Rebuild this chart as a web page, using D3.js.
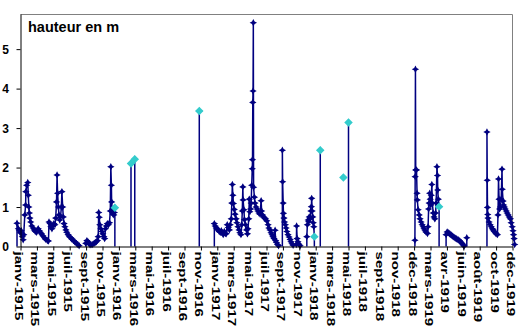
<!DOCTYPE html>
<html><head><meta charset="utf-8">
<script src="https://cdn.jsdelivr.net/npm/d3@7/dist/d3.min.js"></script>
<style>body{margin:0;background:#fff}svg{display:block}</style>
</head><body>
<svg id="chart" width="520" height="329"></svg>
<script>
// ---- data (x = row index of the daily record, y = water height in m) ----
const tickLabels = ["janv-1915","mars-1915","mai-1915","juil-1915","sept-1915","nov-1915",
  "janv-1916","mars-1916","mai-1916","juil-1916","sept-1916","nov-1916",
  "janv-1917","mars-1917","mai-1917","juil-1917","sept-1917","nov-1917",
  "janv-1918","mars-1918","mai-1918","juil-1918","sept-1918","nov-1918",
  "déc-1918","mars-1919","avr-1919","juin-1919","août-1919","oct-1919","déc-1919"];
const firstTickRow = 13, rowsPerTick = 61;
const yTicks = [0,1,2,3,4,5];
const yMax = 5.89;
const titleText = "hauteur en m";

const run1915a = [[0,0.59],[5,0.45],[9,0.40],[12,0.35],[16,0.40],[20,0.25],[23,0.17],[25,0.30],[29,0.80],[32,1.05],[33,1.39],[36,1.55],[40,1.62],[42,1.30],[44,1.00],[46,0.85],[48,0.72],[51,0.62],[55,0.52],[60,0.47],[64,0.42],[68,0.38],[73,0.36],[76,0.42],[79,0.45],[83,0.40],[87,0.36],[91,0.32],[96,0.27],[102,0.22],[107,0.18],[113,0.15],[117,0.14],[119,0.62],[123,0.58],[126,0.50],[130,0.45],[133,0.52],[137,0.58],[141,0.55],[144,0.72],[147,1.13],[149,1.81],[151,1.35],[154,1.00],[156,0.80],[159,0.67],[162,0.75],[165,1.00],[167,1.39],[170,1.00],[172,0.75],[175,0.58],[178,0.50],[182,0.42],[185,0.36],[190,0.30],[195,0.25],[200,0.22],[204,0.19],[210,0.15],[215,0.12],[221,0.08],[226,0.05],[231,0.02]];
const run1915b = [[256,0.08],[260,0.15],[264,0.12],[267,0.08],[271,0.05],[275,0.04],[280,0.05],[286,0.07],[291,0.10],[295,0.12],[299,0.15],[302,0.25],[304,0.86],[306,0.74],[308,0.55],[312,0.45],[316,0.38],[319,0.32],[323,0.25],[326,0.20],[329,0.45],[332,0.52],[336,0.58],[340,0.55],[344,0.60],[347,0.90],[349,2.02],[351,1.55],[352,1.13],[354,0.90],[357,0.82],[360,0.80],[362,0.86],[364,0.98]];
const single1916a = [[424,2.10]];
const single1916b = [[438,2.21]];
const single1916c = [[678,3.43]];
const run1917a = [[734,0.58],[737,0.52],[741,0.47],[745,0.44],[749,0.42],[752,0.38],[756,0.36],[760,0.40],[764,0.35],[767,0.30],[771,0.38],[775,0.33],[778,0.32],[782,0.55],[786,0.48],[790,0.42],[793,0.55],[797,0.70],[799,1.10],[801,1.57],[803,1.30],[805,1.09],[808,0.94],[811,0.82],[815,0.70],[818,0.60],[822,0.50],[826,0.42],[829,0.35],[833,0.30],[836,0.55],[838,0.90],[840,1.51],[841,1.18],[844,0.93],[846,0.68],[850,0.55],[854,0.42],[857,0.32],[859,0.45],[862,0.70],[864,1.20],[866,0.88],[869,0.95],[871,1.10],[873,1.55],[875,1.97],[876,2.20],[877,3.65],[878,3.94],[879,5.67],[880,1.50],[883,1.25],[885,1.10],[889,1.00],[893,0.95],[896,0.90],[900,0.85],[904,0.82],[908,1.16],[910,0.90],[913,0.80],[917,0.75],[921,0.72],[924,0.70],[929,0.65],[934,0.55],[937,0.47],[941,0.42],[945,0.35],[949,0.30],[952,0.25],[956,0.20],[960,0.41],[962,0.15],[965,0.10],[969,0.05],[973,0.02]];
const run1917b = [[987,2.44],[988,1.64],[990,1.10],[991,0.84],[993,0.72],[995,0.62],[998,0.55],[1001,0.47],[1004,0.38],[1008,0.30],[1012,0.24],[1016,0.18],[1019,0.12],[1023,0.07],[1027,0.03],[1039,0.05],[1040,0.52],[1042,0.20],[1045,0.12],[1049,0.06],[1053,0.02]];
const run1918a = [[1078,0.25],[1080,0.55],[1083,0.67],[1085,0.63],[1087,0.75],[1090,0.70],[1093,0.90],[1095,1.01],[1096,1.22],[1098,0.90],[1100,0.75],[1102,0.60],[1104,0.50],[1106,0.25]];
const single1918a = [[1128,2.44]];
const single1918b = [[1233,3.14]];
const run1919a = [[1480,0.16],[1481,1.77],[1482,4.49],[1483,1.94],[1486,1.94],[1488,1.35],[1489,1.18],[1492,0.93],[1496,0.80],[1499,0.70],[1503,0.62],[1507,0.55],[1511,0.50],[1514,0.45],[1518,0.40],[1522,0.36],[1527,0.33],[1529,0.50],[1531,0.95],[1533,1.10],[1535,1.35],[1537,1.20],[1539,1.05],[1541,1.30],[1543,1.57],[1545,1.10],[1548,0.85],[1551,0.75],[1554,0.70],[1557,0.85],[1559,1.10],[1562,2.02],[1564,1.80],[1565,1.43],[1567,1.20],[1570,1.01]];
const run1919b = [[1596,0.30],[1600,0.37],[1604,0.35],[1608,0.33],[1611,0.31],[1615,0.29],[1619,0.27],[1622,0.25],[1626,0.23],[1630,0.21],[1634,0.20],[1637,0.18],[1641,0.17],[1645,0.15],[1648,0.13],[1652,0.10],[1656,0.07],[1660,0.04],[1663,0.01]];
const single1919 = [[1673,0.22]];
const run1919c = [[1748,2.90],[1749,1.68],[1750,0.99],[1751,0.81],[1752,0.72],[1756,0.62],[1760,0.55],[1764,0.50],[1768,0.45],[1771,0.42],[1775,0.38],[1779,0.35],[1782,0.32],[1787,0.30],[1789,0.80],[1791,1.71],[1793,1.20],[1795,0.95],[1798,1.00],[1801,1.20],[1804,1.96],[1805,1.45],[1808,1.15],[1810,1.05],[1813,1.00],[1816,0.95],[1820,0.90],[1823,0.85],[1827,0.80],[1831,0.75],[1835,0.70],[1838,0.60],[1842,0.50],[1845,0.40],[1847,0.30],[1849,0.20],[1851,0.05]];
const highlightPoints = [[364,0.98],[424,2.10],[438,2.21],[678,3.43],[1106,0.25],[1128,2.44],[1214,1.75],[1233,3.14],[1570,1.01]];

const runs = [run1915a, run1915b, single1916a, single1916b, single1916c, run1917a, run1917b,
  run1918a, single1918a, single1918b, run1919a, run1919b, single1919, run1919c];

// ---- drawing ----
const svg = d3.select("#chart");
const L = 20.5, R = 512.5, T = 14, B = 246.5;
const tickRows = d3.range(tickLabels.length).map(k => firstTickRow + k * rowsPerTick);
const x = d3.scaleLinear().domain([tickRows[0], tickRows[tickRows.length-1]]).range([L, R]);
const y = d3.scaleLinear().domain([0, yMax]).range([B, T]);
const navy = "#000080", cyan = "#33CCCC";

// plot border (top/right)
svg.append("path").attr("d", `M${L},${T+0.5}H${R}V${B}`)
  .attr("fill","none").attr("stroke","#808080").attr("stroke-width",1);

const line = d3.line().x(d => x(d[0])).y(d => y(d[1]));
const gData = svg.append("g");
runs.forEach(run => {
  const pts = [[run[0][0], 0], ...run, [run[run.length-1][0], 0]];
  gData.append("path").attr("d", line(pts)).attr("fill","none")
    .attr("stroke", navy).attr("stroke-width", 1.5);
});
const star = "M0,-3.7L1.3,-1.3L3.7,0L1.3,1.3L0,3.7L-1.3,1.3L-3.7,0L-1.3,-1.3Z";
runs.forEach(run => {
  gData.selectAll(null).data(run).enter().append("path")
    .attr("d", star).attr("fill", navy)
    .attr("transform", d => `translate(${x(d[0])},${y(d[1])})`);
});

// axes
const yAxis = svg.append("g").attr("transform", `translate(${L},0)`)
  .call(d3.axisLeft(y).tickValues(yTicks).tickSize(4).tickSizeOuter(0).tickFormat(d3.format("d")));
yAxis.selectAll("text").attr("x", -11.5).attr("dy","0.36em")
  .attr("font-family","'Liberation Sans', Arial, sans-serif").attr("font-size",12)
  .attr("font-weight","bold").attr("fill","#000");
const xAxis = svg.append("g").attr("transform", `translate(0,${B})`)
  .call(d3.axisBottom(x).tickValues(tickRows).tickSize(4).tickSizeOuter(0)
    .tickFormat((d,i) => tickLabels[i]));
xAxis.selectAll("text").attr("x",0).attr("y",0).attr("dy","0.36em")
  .attr("text-anchor","start")
  .attr("transform","translate(-2,5) rotate(90) scale(1.35,1)")
  .attr("font-family","'Liberation Sans', Arial, sans-serif").attr("font-size",11.2)
  .attr("font-weight","bold").attr("fill","#000");
svg.selectAll(".domain, .tick line").attr("stroke","#000");

// highlighted readings
svg.append("g").selectAll("path").data(highlightPoints).enter().append("path")
  .attr("d", d3.symbol(d3.symbolSquare, 36)()).attr("fill", cyan)
  .attr("transform", d => `translate(${x(d[0])},${y(d[1])}) rotate(45)`);

// title
svg.append("text").attr("x", 28).attr("y", 32).text(titleText)
  .attr("font-family","'Liberation Sans', Arial, sans-serif").attr("font-size",14.5)
  .attr("font-weight","bold").attr("fill","#000");
</script>
</body></html>
